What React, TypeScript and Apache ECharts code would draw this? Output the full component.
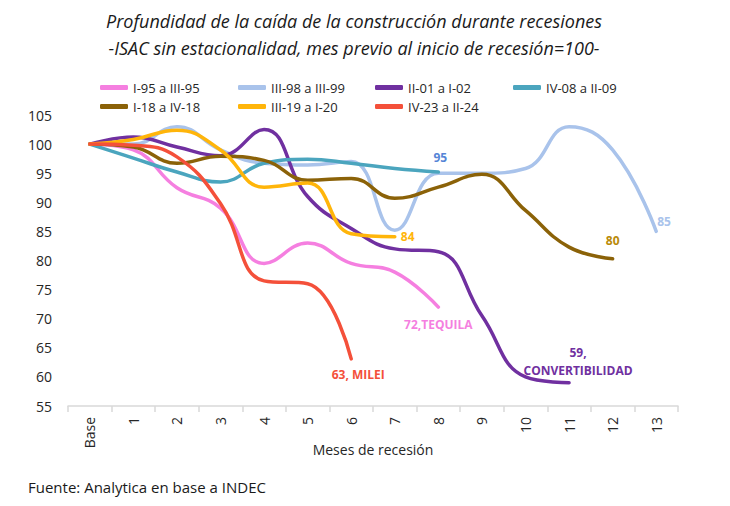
import React, { useEffect, useRef } from "react";
import * as echarts from "echarts";

const categories = ["Base", "1", "2", "3", "4", "5", "6", "7", "8", "9", "10", "11", "12", "13"];

const seriesNames = ["I-95 a III-95", "III-98 a III-99", "II-01 a I-02", "IV-08 a II-09", "I-18 a IV-18", "III-19 a I-20", "IV-23 a II-24"];

const tequila = [100, 99, 92.5, 89, 79.5, 83, 79.5, 78, 72];
const crisis98 = [100, 100, 103, 99, 96.7, 96.4, 97, 85.2, 95, 95, 95.8, 103, 99, 85];
const convertibilidad = [100, 101.2, 99.5, 98, 102.5, 91, 85.5, 82, 81.5, 70.5, 60, 59];
const crisis08 = [100, 97.6, 95.2, 93.5, 96.7, 97.4, 96.7, 95.8, 95.2];
const crisis18 = [100, 99.5, 96.7, 97.9, 97.2, 93.8, 94.1, 90.7, 92.6, 94.8, 88.6, 82.3, 80.3];
const crisis19 = [100, 100.8, 102.4, 99, 92.6, 93.3, 84.6, 84.1];
const milei = [100, 99.8, 97.8, 89.8, 76.5, 76, 63.1];

const endLabels = ["72,TEQUILA", "85", "59,\nCONVERTIBILIDAD", "95", "80", "84", "63, MILEI"];

const lineColors = ["#f57fe0", "#a9c3eb", "#7030a0", "#4ba5be", "#8b6208", "#ffb50a", "#f4503a"];
const labelColors = ["#f57fe0", "#a9c3eb", "#7030a0", "#5585d6", "#b98a08", "#ffb50a", "#f4503a"];

const FONT = "'Open Sans', sans-serif";

export default function App() {
  const ref = useRef<HTMLDivElement>(null);
  useEffect(() => {
    if (!ref.current) return;
    const chart = echarts.init(ref.current, undefined, { renderer: "svg" });
    const allData = [tequila, crisis98, convertibilidad, crisis08, crisis18, crisis19, milei];
    const labelCfg: any[] = [
      { position: "bottom", distance: 8, offset: [0, 0] },
      { position: "right", distance: 3, offset: [-2, -10] },
      { position: "top", distance: 3, offset: [9, 0], align: "center" },
      { position: "top", distance: 6, offset: [2, 0] },
      { position: "top", distance: 9, offset: [0, 0] },
      { position: "right", distance: 6, offset: [0, 0] },
      { position: "bottom", distance: 7, offset: [7, 0] },
    ];
    const series = allData.map((arr, i) => ({
      name: seriesNames[i],
      type: "line",
      smooth: 0.45,
      symbol: "circle",
      symbolSize: 0,
      showSymbol: true,
      showAllSymbol: true,
      lineStyle: { color: lineColors[i], width: 3.5, cap: "round" },
      itemStyle: { color: lineColors[i] },
      label: { show: false },
      data: arr.map((v, j) =>
        j === arr.length - 1
          ? {
              value: v,
              label: {
                show: true,
                formatter: endLabels[i],
                color: labelColors[i],
                fontSize: 12,
                fontWeight: "bold",
                fontFamily: FONT,
                lineHeight: 18,
                ...labelCfg[i],
              },
            }
          : v
      ),
    }));
    const legendLefts = [95, 233, 370, 508, 95, 233, 370];
    const legendTops = [76, 76, 76, 76, 95, 95, 95];
    const legends = seriesNames.map((n, i) => ({
      itemWidth: 28,
      itemHeight: 5,
      itemGap: 0,
      icon: "roundRect",
      textStyle: { fontSize: 13, color: "#262626", fontFamily: FONT },
      left: legendLefts[i],
      top: legendTops[i],
      data: [n],
    }));
    chart.setOption({
      animation: false,
      backgroundColor: "#ffffff",
      textStyle: { fontFamily: FONT },
      legend: legends,
      graphic: [
        {
          type: "text",
          x: 354,
          y: 21,
          style: {
            text: "Profundidad de la caída de la construcción durante recesiones",
            font: "italic 18px 'Open Sans', sans-serif",
            fill: "#1a1a1a",
            textAlign: "center",
            textVerticalAlign: "middle",
          },
        },
        {
          type: "text",
          x: 354,
          y: 48,
          style: {
            text: "-ISAC sin estacionalidad, mes previo al inicio de recesión=100-",
            font: "italic 18px 'Open Sans', sans-serif",
            fill: "#1a1a1a",
            textAlign: "center",
            textVerticalAlign: "middle",
          },
        },
        {
          type: "text",
          x: 28,
          y: 487,
          style: {
            text: "Fuente: Analytica en base a INDEC",
            font: "15px 'Open Sans', sans-serif",
            fill: "#1a1a1a",
            textAlign: "left",
            textVerticalAlign: "middle",
          },
        },
      ],
      grid: { left: 68, right: 52, top: 115, bottom: 100, containLabel: false },
      xAxis: {
        type: "category",
        data: categories,
        boundaryGap: true,
        axisLine: { lineStyle: { color: "#d9d9d9", width: 1.5 } },
        axisTick: { show: true, length: 6, lineStyle: { color: "#d9d9d9", width: 1.5 } },
        axisLabel: { rotate: 90, fontSize: 14, margin: 11, color: "#262626", fontFamily: FONT },
        name: "Meses de recesión",
        nameLocation: "middle",
        nameGap: 36,
        nameMoveOverlap: false,
        nameTextStyle: { fontSize: 14, color: "#262626", fontFamily: FONT },
      },
      yAxis: {
        type: "value",
        min: 55,
        max: 105,
        interval: 5,
        splitLine: { show: false },
        axisLine: { show: false },
        axisTick: { show: false },
        axisLabel: { fontSize: 14, margin: 16, color: "#262626", fontFamily: FONT },
      },
      series,
    });
    return () => chart.dispose();
  }, []);
  return (
    <div
      ref={ref}
      style={{ position: "fixed", left: 0, top: 0, width: 730, height: 506 }}
    />
  );
}
